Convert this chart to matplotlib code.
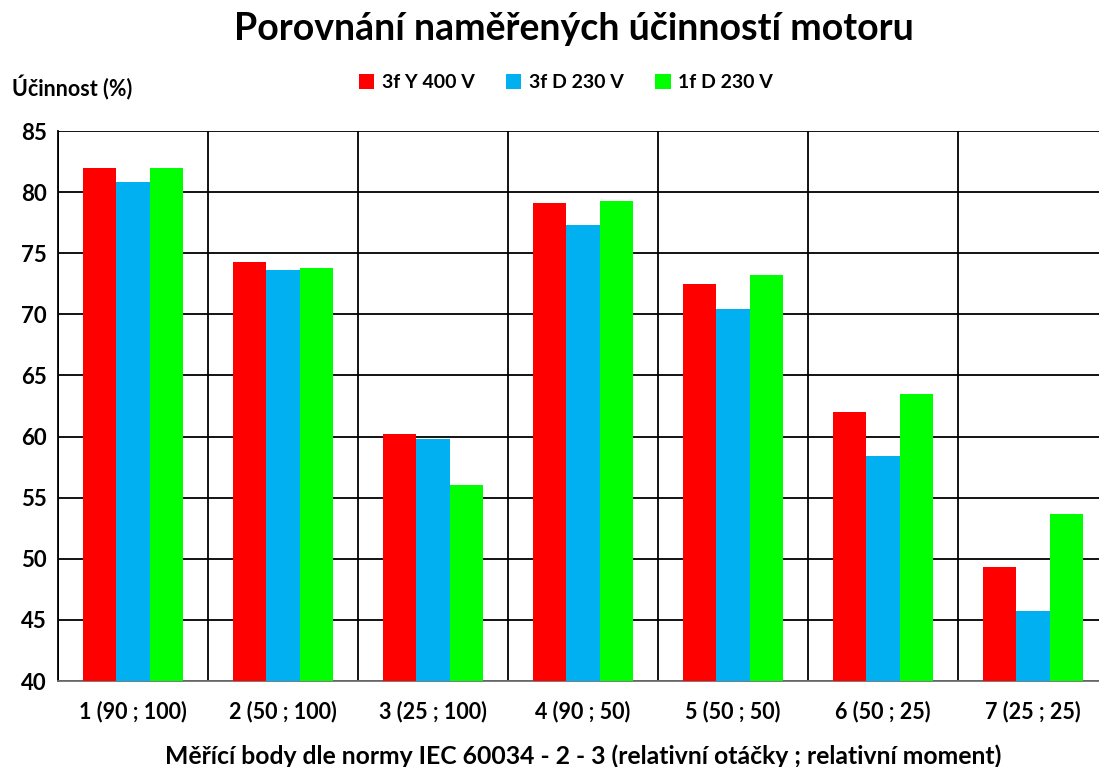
import numpy as np
import matplotlib
matplotlib.use("Agg")
import matplotlib.pyplot as plt
from matplotlib.patches import Patch

plt.rcParams['font.family'] = ['Lato', 'DejaVu Sans']
plt.rcParams['font.weight'] = 'bold'

# data
categories = ["1 (90 ; 100)", "2 (50 ; 100)", "3 (25 ; 100)", "4 (90 ; 50)",
              "5 (50 ; 50)", "6 (50 ; 25)", "7 (25 ; 25)"]
series_names = ["3f Y 400 V", "3f D 230 V", "1f D 230 V"]
y400 = [82.0, 74.3, 60.2, 79.1, 72.5, 62.0, 49.3]
d230 = [80.8, 73.6, 59.8, 77.3, 70.4, 58.4, 45.7]
f1d230 = [82.0, 73.8, 56.0, 79.3, 73.2, 63.5, 53.7]
colors = ["#FF0000", "#00B0F0", "#00FF00"]

fig = plt.figure(figsize=(10.99, 7.67), dpi=100)
ax = fig.add_axes([0.0528, 0.1121, 0.9554, 0.7171])

x = np.arange(len(categories))
w = 0.223
for i, vals in enumerate([y400, d230, f1d230]):
    ax.bar(x + (i - 1) * w, vals, width=w, color=colors[i], zorder=3)

ax.set_xlim(-0.5, len(categories) - 0.5)
ax.set_ylim(40, 85)
ax.set_yticks(np.arange(40, 86, 5))
ax.set_xticks(x)
ax.set_xticklabels(categories)
ax.set_xticks(np.arange(-0.5, len(categories), 1), minor=True)
ax.grid(axis='y', color='black', linewidth=1.3, zorder=0)
ax.grid(axis='x', which='minor', color='black', linewidth=1.3, zorder=0)
ax.tick_params(axis='x', which='both', length=0, labelsize=15.5, pad=14)
ax.tick_params(axis='y', length=0, labelsize=16, pad=8)
for lab in ax.get_xticklabels() + ax.get_yticklabels():
    lab.set_fontweight('bold')

for s in ['top', 'right']:
    ax.spines[s].set_visible(False)
ax.spines['left'].set_color('black')
ax.spines['left'].set_linewidth(1.3)
ax.spines['bottom'].set_color('#707070')
ax.spines['bottom'].set_linewidth(1.3)

ax.set_xlabel("Měřící body dle normy IEC 60034 - 2 - 3 (relativní otáčky ; relativní moment)",
              fontsize=17.8, fontweight='bold', labelpad=16)
fig.text(0.522, 0.962, "Porovnání naměřených účinností motoru", ha='center', va='center',
         fontsize=27, fontweight='bold')
fig.text(0.011, 0.885, "Účinnost (%)", ha='left', va='center', fontsize=15.5, fontweight='bold')

handles = [Patch(facecolor=c) for c in colors]
fig.legend(handles, series_names, loc='center', bbox_to_anchor=(0.515, 0.892), ncol=3,
           frameon=False, prop={'size': 14, 'weight': 'bold'},
           handlelength=0.8, handleheight=0.8, handletextpad=0.4, columnspacing=1.6)

fig.savefig("out.png", dpi=100)
